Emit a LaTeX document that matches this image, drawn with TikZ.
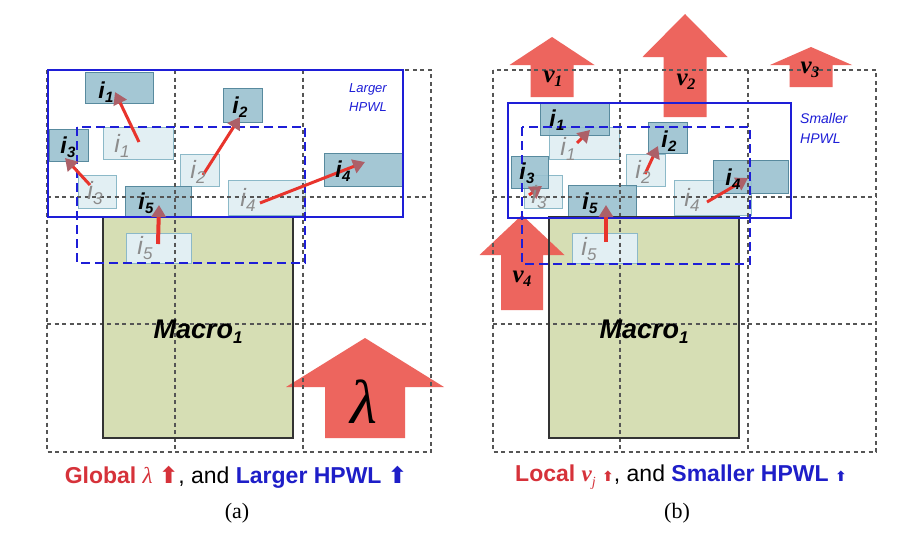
\documentclass[tikz,border=0pt]{standalone}
\usepackage{fontspec}
\setmainfont{Liberation Sans}
\newfontfamily\seriffam{Liberation Serif}
\newfontfamily\dejavufam{DejaVu Sans}
\usetikzlibrary{arrows.meta}
\definecolor{celldark}{RGB}{152,192,207}
\definecolor{celldarkb}{RGB}{88,138,158}
\definecolor{celllight}{RGB}{226,239,243}
\definecolor{celllightb}{RGB}{140,185,200}
\definecolor{macrofill}{RGB}{214,222,180}
\definecolor{bigred}{RGB}{236,90,82}
\definecolor{movered}{RGB}{232,52,44}
\definecolor{tipmauve}{RGB}{172,96,104}
\definecolor{hpblue}{RGB}{30,30,215}
\definecolor{capred}{RGB}{214,50,58}
\definecolor{capblue}{RGB}{30,30,200}
\definecolor{gridgray}{RGB}{85,85,85}
\definecolor{lightlabc}{RGB}{140,140,140}
\newcommand\mycell[6]{\node[#6, anchor=north west, minimum width={(#4-#2)*1pt}, minimum height={(#5-#3)*1pt}] (#1) at (#2,#3) {};}
\newcommand\bigup[6]{\fill[bigarrow] (#1,#2) -- ({#1+#3},#4) -- ({#1+#5},#4) -- ({#1+#5},#6) -- ({#1-#5},#6) -- ({#1-#5},#4) -- ({#1-#3},#4) -- cycle;}
\newcommand\darklab[1]{{\fontsize{23}{23}\selectfont\bfseries\itshape i\kern0.3pt\raisebox{-0.35ex}{\fontsize{15}{15}\selectfont #1}}}
\newcommand\lightlab[1]{{\fontsize{25}{25}\selectfont\itshape i\kern0.3pt\raisebox{-0.35ex}{\fontsize{17}{17}\selectfont #1}}}
\newcommand\nulab[1]{{\seriffam\fontsize{25}{25}\selectfont\bfseries\itshape ν\kern-0.5pt\raisebox{-0.35ex}{\fontsize{16}{16}\selectfont #1}}}
\begin{document}
\begin{tikzpicture}[x=1pt,y=-1pt,
  gridline/.style={draw=gridgray, line width=1.2pt, dash pattern=on 4pt off 3.5pt},
  dcell/.style={draw=celldarkb, fill=celldark, fill opacity=0.88, line width=1pt, inner sep=0pt, outer sep=0pt},
  lcell/.style={draw=celllightb, fill=celllight, line width=1pt, inner sep=0pt, outer sep=0pt},
  macrobox/.style={draw=black!80, fill=macrofill, line width=1.5pt},
  bigarrow/.style={fill=bigred, fill opacity=0.93},
  hpsolid/.style={draw=hpblue, line width=2.2pt},
  hpdash/.style={draw=hpblue, line width=1.6pt, dash pattern=on 9pt off 5pt},
  move/.style={draw=movered, line width=3pt, -{Triangle[length=12pt,width=14pt,color=tipmauve]}},
  dlabel/.style={text=black, inner sep=0pt},
  llabel/.style={text=lightlabc, inner sep=0pt},
  nlabel/.style={text=black, inner sep=0pt},
  caption/.style={inner sep=0pt, font=\fontsize{23}{25}\selectfont},
  sub/.style={inner sep=0pt, font=\seriffam\fontsize{22}{24}\selectfont}
]
\useasboundingbox (0,0) rectangle (920,544);
\fill[white] (0,0) rectangle (920,544);

% ---------------- panel (a) ----------------
\fill[macrobox, draw=none] (103,217) rectangle (293,438);
\mycell{ll1}{103}{127}{173}{159}{lcell}
\mycell{ll2}{180}{154}{219}{186}{lcell}
\mycell{ll3}{78}{175}{116}{208}{lcell}
\mycell{ll4}{228}{180}{305}{215}{lcell}
\mycell{ll5}{126}{233}{191}{263}{lcell}
\mycell{ld1}{85}{72}{153}{103}{dcell}
\mycell{ld2}{223}{88}{262}{122}{dcell}
\mycell{ld3}{49}{129}{88}{161}{dcell}
\mycell{ld4}{324}{153}{402}{186}{dcell}
\mycell{ld5}{125}{186}{191}{217}{dcell}
\bigup{365}{338}{79}{387}{40}{438}
% grid
\draw[gridline] (47,70) rectangle (431,452);
\draw[gridline] (175,70) -- (175,452) (303,70) -- (303,452) (47,197) -- (431,197) (47,324) -- (431,324);
\draw[macrobox, fill=none] (103,217) rectangle (293,438);
\draw[hpsolid] (48,70) rectangle (403,217);
\draw[hpdash] (77,127) rectangle (305,263);
% moves
\coordinate (la1s) at (139,142); \coordinate (la1e) at (115,92);
\coordinate (la2s) at (203,175); \coordinate (la2e) at (240,117);
\coordinate (la3s) at (90,185);  \coordinate (la3e) at (65,158);
\coordinate (la4s) at (260,203); \coordinate (la4e) at (365,162);
\coordinate (la5s) at (158,244); \coordinate (la5e) at (159,205);
\draw[move] (la1s) -- (la1e);
\draw[move] (la2s) -- (la2e);
\draw[move] (la3s) -- (la3e);
\draw[move] (la4s) -- (la4e);
\draw[move, line width=4pt] (la5s) -- (la5e);
% labels
\node[llabel] (tll1) at (122,146) {\lightlab{1}};
\node[llabel] (tll2) at (198,172) {\lightlab{2}};
\node[llabel] (tll3) at (95,193) {\lightlab{3}};
\node[llabel] (tll4) at (248,200) {\lightlab{4}};
\node[llabel] (tll5) at (145,248) {\lightlab{5}};
\node[dlabel] (tld1) at (106,92) {\darklab{1}};
\node[dlabel] (tld2) at (240,107) {\darklab{2}};
\node[dlabel] (tld3) at (68,147) {\darklab{3}};
\node[dlabel] (tld4) at (343,171) {\darklab{4}};
\node[dlabel] (tld5) at (146,203) {\darklab{5}};
\node[text=hpblue, align=center, inner sep=0pt, font=\fontsize{13}{19}\selectfont\itshape] (lhp) at (368,98) {Larger\\HPWL};
\node[inner sep=0pt, font=\fontsize{27}{27}\selectfont\bfseries\itshape] (lmac) at (198,332) {Macro\raisebox{-0.35ex}{\fontsize{17}{17}\selectfont 1}};
\node[inner sep=0pt, font=\seriffam\fontsize{62}{62}\selectfont\itshape] (llam) at (364,402) {λ};
\node[caption] (lcap) at (236,477) {\textcolor{capred}{\bfseries Global {\seriffam\mdseries\itshape λ} {\dejavufam\bfseries ⬆}}, and \textcolor{capblue}{\bfseries Larger HPWL {\dejavufam ⬆}}};
\node[sub] (lsub) at (237,513) {(a)};

% ---------------- panel (b) ----------------
\fill[macrobox, draw=none] (549,217) rectangle (739,438);
\mycell{rl1}{549}{127}{619}{159}{lcell}
\mycell{rl2}{626}{154}{665}{186}{lcell}
\mycell{rl3}{524}{175}{562}{208}{lcell}
\mycell{rl4}{674}{180}{751}{215}{lcell}
\mycell{rl5}{572}{233}{637}{263}{lcell}
\mycell{rd1}{540}{103}{609}{135}{dcell}
\mycell{rd2}{648}{122}{687}{153}{dcell}
\mycell{rd3}{511}{156}{548}{188}{dcell}
\mycell{rd4}{713}{160}{788}{193}{dcell}
\mycell{rd5}{568}{185}{636}{217}{dcell}
\bigup{552}{37}{42.5}{65}{21.5}{97}
\bigup{685}{14}{42.5}{57}{21.5}{117}
\bigup{811}{47}{41}{65}{21.5}{87}
\bigup{522}{215}{42.5}{255}{21}{310}
% grid
\draw[gridline] (493,70) rectangle (876,452);
\draw[gridline] (620,70) -- (620,452) (748,70) -- (748,452) (493,197) -- (876,197) (493,324) -- (876,324);
\draw[macrobox, fill=none] (549,217) rectangle (739,438);
\draw[hpsolid] (508,103) rectangle (791,218);
\draw[hpdash] (522,127) rectangle (750,264);
% moves
\coordinate (ra1s) at (577,143); \coordinate (ra1e) at (590,130);
\coordinate (ra2s) at (645,174); \coordinate (ra2e) at (658,146);
\coordinate (ra3s) at (529,195); \coordinate (ra3e) at (542,186);
\coordinate (ra4s) at (707,202); \coordinate (ra4e) at (748,178);
\coordinate (ra5s) at (606,242); \coordinate (ra5e) at (606,205);
\draw[move] (ra1s) -- (ra1e);
\draw[move] (ra2s) -- (ra2e);
\draw[move] (ra3s) -- (ra3e);
\draw[move] (ra4s) -- (ra4e);
\draw[move, line width=4pt] (ra5s) -- (ra5e);
% labels
\node[llabel] (trl1) at (568,149) {\lightlab{1}};
\node[llabel] (trl2) at (643,172) {\lightlab{2}};
\node[llabel] (trl3) at (539,197) {\lightlab{3}};
\node[llabel] (trl4) at (692,200) {\lightlab{4}};
\node[llabel] (trl5) at (589,249) {\lightlab{5}};
\node[dlabel] (trd1) at (557,120) {\darklab{1}};
\node[dlabel] (trd2) at (669,141) {\darklab{2}};
\node[dlabel] (trd3) at (527,173) {\darklab{3}};
\node[dlabel] (trd4) at (733,179) {\darklab{4}};
\node[dlabel] (trd5) at (590,203) {\darklab{5}};
\node[text=hpblue, align=left, anchor=west, inner sep=0pt, font=\fontsize{14}{20}\selectfont\itshape] (rhp) at (800,128) {Smaller\\HPWL};
\node[inner sep=0pt, font=\fontsize{27}{27}\selectfont\bfseries\itshape] (rmac) at (644,332) {Macro\raisebox{-0.35ex}{\fontsize{17}{17}\selectfont 1}};
\node[nlabel] (nu1) at (553,79) {\nulab{1}};
\node[nlabel] (nu2) at (686,82) {\nulab{2}};
\node[nlabel] (nu3) at (810,70) {\nulab{3}};
\node[nlabel] (nu4) at (522,279) {\nulab{4}};
\node[caption] (rcap) at (681,477) {\textcolor{capred}{\bfseries Local {\seriffam\bfseries\itshape ν\raisebox{-0.5ex}{\fontsize{14}{14}\selectfont\mdseries j}} {\dejavufam\fontsize{14}{14}\selectfont ⬆}}, and \textcolor{capblue}{\bfseries Smaller HPWL {\dejavufam\fontsize{14}{14}\selectfont ⬆}}};
\node[sub] (rsub) at (677,513) {(b)};
\end{tikzpicture}
\end{document}
